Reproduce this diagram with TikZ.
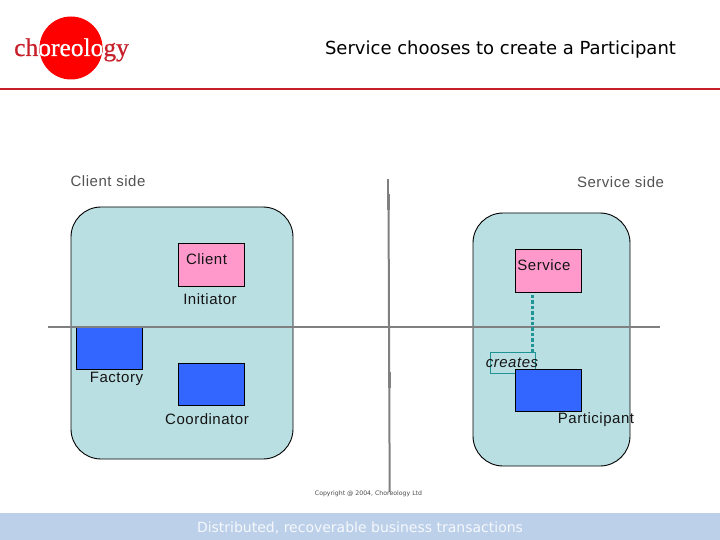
\documentclass[tikz,border=0pt]{standalone}
\usepackage{fontspec}
\setmainfont{Liberation Sans}[LetterSpace=3.5]
\newfontfamily\verd{DejaVu Sans}
\newfontfamily\logofont{Liberation Serif}[FakeBold=0.6]
\definecolor{panel}{HTML}{BADFE3}
\definecolor{pinkbox}{HTML}{FF99CC}
\definecolor{bluebox}{HTML}{3366FF}
\definecolor{teal2}{HTML}{1F9494}
\definecolor{axis}{HTML}{808080}
\definecolor{band}{HTML}{BDD0E9}
\definecolor{logored}{HTML}{C8202A}
\tikzset{
  x=1pt,y=-1pt,
  panelbox/.style={draw=black,fill=panel,line width=0.9pt,rounded corners=30pt},
  pinkrect/.style={draw=black,fill=pinkbox,line width=0.9pt,minimum width=66.5pt,minimum height=42.5pt,inner sep=0pt},
  bluerect/.style={draw=black,fill=bluebox,line width=0.9pt,minimum width=66.5pt,minimum height=42.5pt,inner sep=0pt},
  axisline/.style={draw=axis,line width=2pt},
  lbl/.style={inner sep=0pt,anchor=base,font=\fontsize{15}{17}\selectfont,text=black!92},
  sidelbl/.style={lbl,text=black!68},
  logotext/.style={inner sep=0pt,anchor=base west,font=\logofont\fontsize{25.5}{28}\selectfont},
}
\begin{document}
\begin{tikzpicture}
\useasboundingbox (0,0) rectangle (720,540);
\fill[white] (0,0) rectangle (720,540);
% logo
\fill[red] (71,48) circle (31.5);
\node[logotext,text=logored] (logoa) at (14,56) {choreology};
\begin{scope}
\clip (71,48) circle (31.5);
\node[logotext,text=white] (logob) at (14,56) {choreology};
\end{scope}
\draw[draw=logored,line width=2pt] (0,89) -- (720,89);
\node[inner sep=0pt,anchor=base,font=\verd\fontsize{18}{20}\selectfont] (title) at (500.5,55) {Service chooses to create a Participant};
% panels
\draw[panelbox] (71,207) rectangle (293,459);
\draw[panelbox] (473,213) rectangle (630,466);
% boxes
\node[pinkrect] (client) at (211.5,264.7) {};
\node[pinkrect] (service) at (548.5,270.7) {};
\node[bluerect] (factory) at (109.5,348) {};
\node[bluerect] (coord) at (211.5,384.3) {};
\node[draw=teal2,line width=0.8pt,minimum width=45pt,minimum height=21pt,inner sep=0pt,anchor=north west] (createsbox) at (490,352) {};
\node[bluerect] (part) at (548.5,390.3) {};
% axes
\draw[axisline] (48,326.5) -- (660,326.5);
\draw[axisline] (388,179) -- (388,195);
\draw[axisline,line width=3pt] (388,194) -- (388,210);
\draw[axisline] (388.5,195) -- (389,326);
\draw[axisline] (389,326) -- (389.7,492);
\draw[axisline,line width=3pt] (389.3,372) -- (389.3,388);
\draw[draw=teal2,line width=3.3pt,dash pattern=on 3.4pt off 2pt] (532.5,295) -- (532.5,352);
% labels
\node[sidelbl] (l1) at (108,186.5) {Client side};
\node[sidelbl] (l2) at (620.5,187.5) {Service side};
\node[lbl] (l3) at (206.5,264.3) {Client};
\node[lbl] (l4) at (544,270.3) {Service};
\node[lbl] (l5) at (210,304.3) {Initiator};
\node[lbl] (l6) at (116.5,382.5) {Factory};
\node[lbl] (l7) at (207,424.3) {Coordinator};
\node[lbl,font=\itshape\fontsize{15}{17}\selectfont] (l8) at (512,367.7) {creates};
\node[lbl] (l9) at (596,423.5) {Participant};
% footer
\fill[band] (0,513) rectangle (720,540);
\node[inner sep=0pt,anchor=base,font=\verd\fontsize{14}{16}\selectfont,text=white!85!band] (foot) at (360,532) {Distributed, recoverable business transactions};
\node[inner sep=0pt,anchor=base,font=\verd\fontsize{6.2}{7}\selectfont,text=black!70] (copy) at (368.5,495) {Copyright @ 2004, Choreology Ltd};
\end{tikzpicture}
\end{document}
